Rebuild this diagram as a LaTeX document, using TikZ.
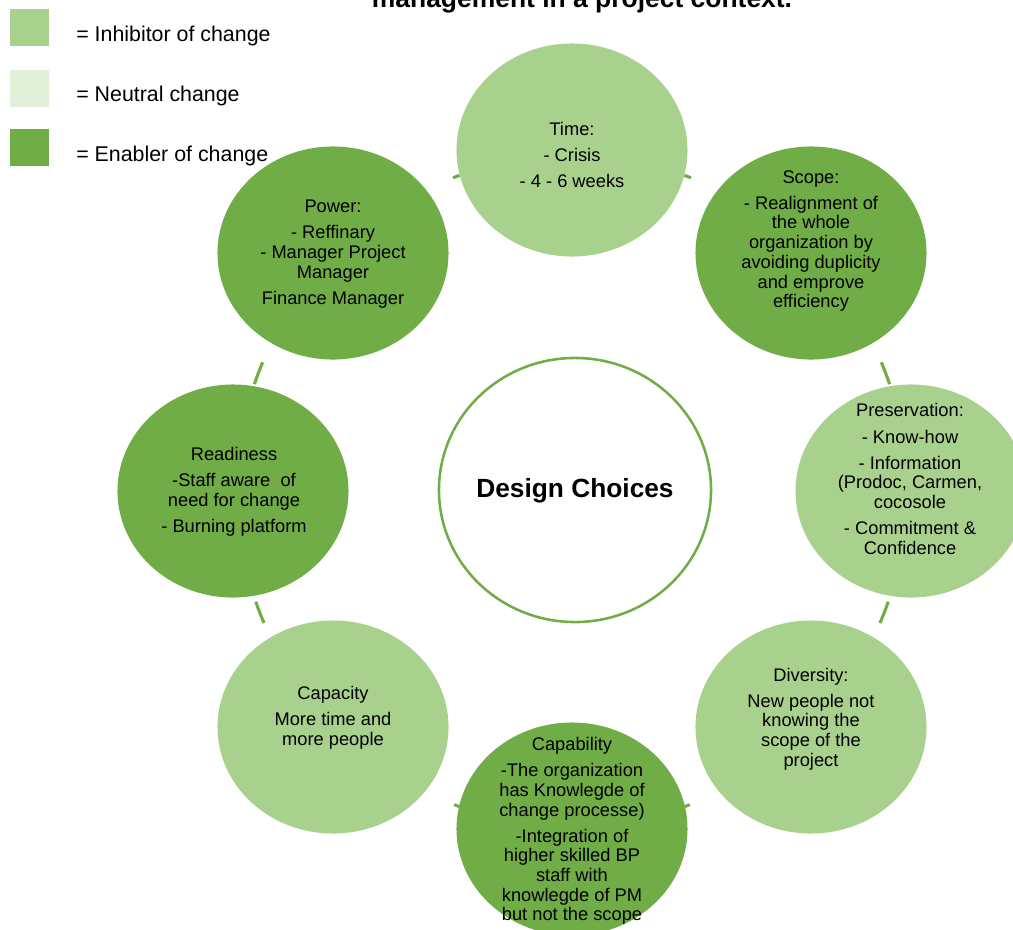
\documentclass[tikz,border=0pt]{standalone}
\usepackage{fontspec}
\setmainfont{Liberation Sans}
\usetikzlibrary{shapes.geometric}

\definecolor{inhibgreen}{HTML}{A9D18E}
\definecolor{neutgreen}{HTML}{E2F0D9}
\definecolor{enabgreen}{HTML}{70AD47}

\tikzstyle{bubble} = [ellipse, minimum width=5.775cm, minimum height=5.325cm, inner sep=0pt]
\tikzstyle{bubbletext} = [align=center, inner sep=0pt, font=\fontsize{13}{14}\selectfont]
\tikzstyle{legendbox} = [rectangle, minimum width=0.975cm, minimum height=0.925cm, inner sep=0pt]
\tikzstyle{legendtext} = [anchor=west, inner sep=0pt, font=\fontsize{15.2}{17}\selectfont]
\tikzstyle{tick} = [enabgreen, line width=2.2pt]

\begin{document}
\begin{tikzpicture}[x=0.025cm, y=-0.025cm]

\clip (0,0) rectangle (1013,929);

\node[font=\bfseries\fontsize{18.8}{20}\selectfont, anchor=base] (title) at (582,7) {management in a project context.};

% legend

\node[legendbox, fill=inhibgreen] (key_inhib) at (29.5,27.5) {};
\node[legendbox, fill=neutgreen] (key_neut) at (29.5,88.5) {};
\node[legendbox, fill=enabgreen] (key_enab) at (29.5,147.5) {};

\node[legendtext] (lbl_inhib) at (76,36) {= Inhibitor of change};
\node[legendtext] (lbl_neut) at (76,96) {= Neutral change};
\node[legendtext] (lbl_enab) at (76,156) {= Enabler of change};

% ring

\coordinate (hub) at (572,491);

\draw[tick] ([shift={(69.2:8.375cm)}]hub) arc[start angle=69.2, end angle=70.4, radius=8.375cm];
\draw[tick] ([shift={(109.6:8.375cm)}]hub) arc[start angle=109.6, end angle=110.8, radius=8.375cm];
\draw[tick] ([shift={(18.6:8.375cm)}]hub) arc[start angle=18.6, end angle=22.6, radius=8.375cm];
\draw[tick] ([shift={(157.4:8.375cm)}]hub) arc[start angle=157.4, end angle=161.4, radius=8.375cm];
\draw[tick] ([shift={(-23.2:8.375cm)}]hub) arc[start angle=-23.2, end angle=-19.3, radius=8.375cm];
\draw[tick] ([shift={(199.3:8.375cm)}]hub) arc[start angle=199.3, end angle=203.2, radius=8.375cm];
\draw[tick] ([shift={(-70.4:8.375cm)}]hub) arc[start angle=-70.4, end angle=-69.4, radius=8.375cm];
\draw[tick] ([shift={(-110.6:8.375cm)}]hub) arc[start angle=-110.6, end angle=-109.6, radius=8.375cm];

\node[ellipse, draw=enabgreen, line width=1.8pt, fill=white, minimum width=6.8cm, minimum height=6.6cm] (design) at (575,490) {};
\node[font=\bfseries\fontsize{18.7}{20}\selectfont] (design_t) at (575,491) {Design Choices};

% top and right side

\node[bubble, fill=inhibgreen] (time) at (572,150) {};
\node[bubbletext] (time_t) at (572,155) {Time:\\[4.5pt] - Crisis\\[4.5pt] - 4 - 6 weeks};

\node[bubble, fill=enabgreen] (scope) at (811,253) {};
\node[bubbletext] (scope_t) at (811,241) {Scope:\\[4.5pt] - Realignment of\\ the whole\\ organization by\\ avoiding duplicity\\ and emprove\\ efficiency};

\node[bubble, fill=inhibgreen] (preserv) at (911,491) {};
\node[bubbletext] (preserv_t) at (910,479) {Preservation:\\[4.5pt] - Know-how\\[4.5pt] - Information\\ (Prodoc, Carmen,\\ cocosole\\[4.5pt] - Commitment \&\\ Confidence};

\node[bubble, fill=inhibgreen] (divers) at (811,727) {};
\node[bubbletext] (divers_t) at (811,719) {Diversity:\\[4.5pt] New people not\\ knowing the\\ scope of the\\ project};

% bottom and left side

\node[bubble, fill=enabgreen] (capab) at (572,829) {};
\node[bubbletext] (capab_t) at (572,831) {Capability\\[4.5pt] -The organization\\ has Knowlegde of\\ change processe)\\[4.5pt] -Integration of\\ higher skilled BP\\ staff with\\ knowlegde of PM\\ but not the scope};

\node[bubble, fill=inhibgreen] (capac) at (333,727) {};
\node[bubbletext] (capac_t) at (333,718) {Capacity\\[4.5pt] More time and\\ more people};

\node[bubble, fill=enabgreen] (ready) at (233,491) {};
\node[bubbletext] (ready_t) at (234,492) {Readiness\\[4.5pt] -Staff aware \ of\\ need for change\\[4.5pt] - Burning platform};

\node[bubble, fill=enabgreen] (power) at (333,253) {};
\node[bubbletext] (power_t) at (333,254) {Power:\\[4.5pt] - Reffinary\\ - Manager Project\\ Manager\\[4.5pt] Finance Manager};

\end{tikzpicture}
\end{document}
